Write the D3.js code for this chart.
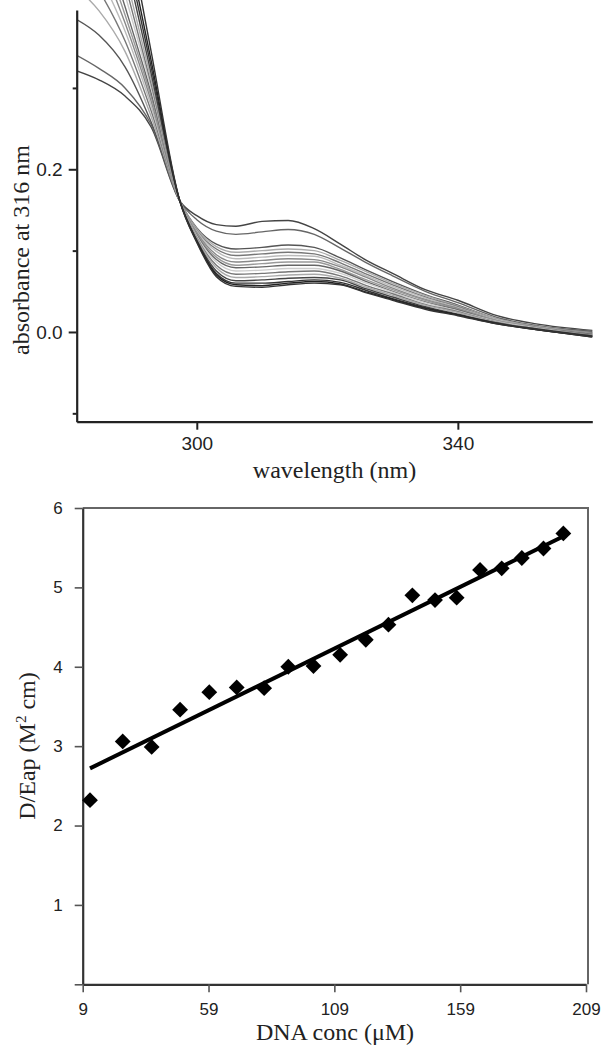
<!DOCTYPE html>
<html>
<head>
<meta charset="utf-8">
<script src="https://cdn.jsdelivr.net/npm/d3@7"></script>
<style>
  body { margin: 0; background: #fff; }
  .tick text { font-family: "Liberation Sans", Arial, sans-serif; fill: #222; }
  .top .tick text { font-size: 19px; }
  .bot .tick text { font-size: 17px; }
  .title { font-family: "Liberation Serif", "Times New Roman", serif; font-size: 24px; fill: #222; }
</style>
</head>
<body>
<svg width="602" height="1049"></svg>
<script>
// ---- top panel: absorption spectra during the titration ----
const wavelengths = [281.6, 285, 289, 293, 297.4, 300, 303, 306, 310, 314, 318, 322, 326, 330, 335, 340, 346, 352, 360.6];

const spectra = [
  [0.321, 0.310, 0.290, 0.252, 0.161, 0.143, 0.132, 0.130, 0.136, 0.137, 0.127, 0.108, 0.088, 0.072, 0.052, 0.039, 0.020, 0.010, 0.002],
  [0.340, 0.324, 0.300, 0.255, 0.161, 0.138, 0.124, 0.120, 0.123, 0.126, 0.120, 0.103, 0.085, 0.069, 0.050, 0.036, 0.018, 0.008, 0.001],
  [0.384, 0.365, 0.326, 0.258, 0.161, 0.128, 0.108, 0.102, 0.104, 0.107, 0.104, 0.091, 0.076, 0.062, 0.046, 0.033, 0.016, 0.007, 0.000],
  [0.423, 0.395, 0.345, 0.265, 0.161, 0.127, 0.105, 0.098, 0.100, 0.102, 0.100, 0.088, 0.074, 0.060, 0.045, 0.032, 0.016, 0.007, -0.001],
  [0.460, 0.420, 0.358, 0.272, 0.161, 0.125, 0.102, 0.094, 0.096, 0.098, 0.096, 0.085, 0.071, 0.058, 0.043, 0.031, 0.015, 0.006, -0.001],
  [0.490, 0.440, 0.370, 0.278, 0.161, 0.124, 0.099, 0.090, 0.092, 0.094, 0.093, 0.082, 0.069, 0.056, 0.042, 0.030, 0.015, 0.006, -0.002],
  [0.520, 0.460, 0.380, 0.284, 0.161, 0.122, 0.095, 0.086, 0.088, 0.090, 0.089, 0.080, 0.067, 0.054, 0.040, 0.029, 0.014, 0.006, -0.002],
  [0.550, 0.480, 0.390, 0.289, 0.161, 0.121, 0.092, 0.082, 0.084, 0.086, 0.086, 0.077, 0.064, 0.052, 0.039, 0.028, 0.014, 0.005, -0.003],
  [0.580, 0.500, 0.400, 0.294, 0.161, 0.119, 0.089, 0.079, 0.080, 0.082, 0.082, 0.075, 0.062, 0.050, 0.037, 0.027, 0.013, 0.005, -0.003],
  [0.620, 0.530, 0.415, 0.300, 0.161, 0.118, 0.086, 0.075, 0.076, 0.078, 0.078, 0.072, 0.060, 0.049, 0.036, 0.026, 0.013, 0.005, -0.004],
  [0.650, 0.550, 0.428, 0.305, 0.161, 0.116, 0.082, 0.071, 0.072, 0.074, 0.075, 0.069, 0.057, 0.047, 0.034, 0.025, 0.012, 0.004, -0.004],
  [0.680, 0.575, 0.442, 0.311, 0.161, 0.115, 0.079, 0.067, 0.068, 0.070, 0.071, 0.066, 0.055, 0.045, 0.033, 0.024, 0.012, 0.004, -0.005],
  [0.720, 0.600, 0.460, 0.318, 0.161, 0.113, 0.075, 0.063, 0.064, 0.066, 0.067, 0.064, 0.053, 0.043, 0.031, 0.022, 0.011, 0.004, -0.005],
  [0.750, 0.625, 0.475, 0.326, 0.161, 0.112, 0.072, 0.060, 0.060, 0.062, 0.064, 0.061, 0.051, 0.041, 0.030, 0.021, 0.011, 0.003, -0.005],
  [0.780, 0.650, 0.490, 0.334, 0.161, 0.111, 0.070, 0.058, 0.057, 0.060, 0.062, 0.059, 0.049, 0.040, 0.029, 0.021, 0.010, 0.003, -0.006],
  [0.830, 0.685, 0.515, 0.345, 0.161, 0.110, 0.068, 0.056, 0.055, 0.058, 0.060, 0.058, 0.048, 0.039, 0.028, 0.020, 0.010, 0.003, -0.006]
];
const spectraColors = ["#444", "#666", "#555", "#aaa", "#777", "#bbb", "#888", "#999",
                       "#666", "#ccc", "#777", "#aaa", "#444", "#333", "#222", "#333"];

const waveTicks = [300, 340];
const absTicks = [0.0, 0.2];
const absMinor = [-0.1, 0.1, 0.3];

// ---- bottom panel: D/Eap vs DNA concentration ----
const dnaConc = [11.9, 24.9, 36.4, 47.7, 59.3, 70.2, 81.1, 90.7, 100.7, 111.3,
                 121.5, 130.5, 140.0, 149.0, 157.6, 166.9, 175.5, 183.5, 192.1, 200.0];
const dEap = [2.32, 3.06, 2.99, 3.46, 3.68, 3.74, 3.73, 4.00, 4.01, 4.15,
              4.34, 4.53, 4.90, 4.84, 4.87, 5.22, 5.24, 5.37, 5.49, 5.68];
const fitX = [11.9, 200.5];
const fitY = [2.72, 5.65];
const concTicks = [9, 59, 109, 159, 209];
const dTicks = [0, 1, 2, 3, 4, 5, 6];

const svg = d3.select("svg");

// top panel
const x1 = d3.scaleLinear().domain([281.6, 360.6]).range([76.7, 592.3]);
const y1 = d3.scaleLinear().domain([-0.1103, 0.3958]).range([421.7, 10]);

svg.append("clipPath").attr("id", "clipTop")
  .append("rect").attr("x", 77).attr("y", 0).attr("width", 516).attr("height", 421);

const line1 = d3.line()
  .x((d, i) => x1(wavelengths[i]))
  .y(d => y1(d))
  .curve(d3.curveMonotoneX);

svg.append("g").attr("clip-path", "url(#clipTop)")
  .selectAll("path")
  .data(spectra)
  .enter().append("path")
  .attr("d", line1)
  .attr("fill", "none")
  .attr("stroke", (d, i) => spectraColors[i])
  .attr("stroke-width", 1.4);

const yAx1 = svg.append("g").attr("class", "top").attr("transform", "translate(76.7,0)")
  .call(d3.axisLeft(y1).tickValues(absTicks).tickFormat(d3.format(".1f")).tickSize(8).tickSizeOuter(0));
svg.append("g").attr("transform", "translate(76.7,0)")
  .call(d3.axisLeft(y1).tickValues(absMinor).tickFormat("").tickSize(4).tickSizeOuter(0))
  .select(".domain").remove();
const xAx1 = svg.append("g").attr("class", "top").attr("transform", "translate(0,421.7)")
  .call(d3.axisBottom(x1).tickValues(waveTicks).tickSize(8).tickSizeOuter(0));

[yAx1, xAx1].forEach(g => {
  g.select(".domain").attr("stroke", "#222").attr("stroke-width", 2.2);
});
svg.selectAll(".tick line").attr("stroke", "#222").attr("stroke-width", 2);
yAx1.selectAll(".tick text").attr("x", -14);
xAx1.selectAll(".tick text").attr("y", 15);

svg.append("text").attr("class", "title")
  .attr("x", 334.5).attr("y", 478).attr("text-anchor", "middle")
  .text("wavelength (nm)");
svg.append("text").attr("class", "title")
  .attr("transform", "translate(29,250) rotate(-90)").attr("text-anchor", "middle")
  .text("absorbance at 316 nm");

// bottom panel
const x2 = d3.scaleLinear().domain([9, 209]).range([82.7, 586]);
const y2 = d3.scaleLinear().domain([0, 6]).range([984.3, 508]);

// frame top and right
svg.append("path")
  .attr("d", `M${x2(9)},${y2(6)}H${x2(209) + 2}V${y2(0)}`)
  .attr("fill", "none").attr("stroke", "#666").attr("stroke-width", 2);

const yAx2 = svg.append("g").attr("class", "bot").attr("transform", "translate(82.7,0)")
  .call(d3.axisLeft(y2).tickValues(dTicks).tickFormat(d => d === 0 ? "" : d).tickSize(8).tickSizeOuter(0));
const xAx2 = svg.append("g").attr("class", "bot").attr("transform", "translate(0,984.3)")
  .call(d3.axisBottom(x2).tickValues(concTicks).tickSize(8).tickSizeOuter(0));

[yAx2, xAx2].forEach(g => {
  g.select(".domain").attr("stroke", "#333").attr("stroke-width", 2.2);
  g.selectAll(".tick line").attr("stroke", "#555").attr("stroke-width", 1.6);
});
yAx2.selectAll(".tick text").attr("x", -20);
xAx2.selectAll(".tick text").attr("y", 19);

svg.append("line")
  .attr("x1", x2(fitX[0])).attr("y1", y2(fitY[0]))
  .attr("x2", x2(fitX[1])).attr("y2", y2(fitY[1]))
  .attr("stroke", "#000").attr("stroke-width", 4);

svg.append("g").selectAll("path")
  .data(dnaConc)
  .enter().append("path")
  .attr("d", d3.symbol().type(d3.symbolSquare).size(125))
  .attr("transform", (d, i) => `translate(${x2(d)},${y2(dEap[i])}) rotate(45)`)
  .attr("fill", "#000");

svg.append("text").attr("class", "title")
  .attr("x", 335).attr("y", 1040).attr("text-anchor", "middle")
  .text("DNA conc (μM)");
const yt = svg.append("text").attr("class", "title")
  .attr("transform", "translate(35,746) rotate(-90)").attr("text-anchor", "middle");
yt.append("tspan").text("D/Eap (M");
yt.append("tspan").attr("dy", -9).attr("font-size", 15).text("2");
yt.append("tspan").attr("dy", 9).text(" cm)");
</script>
</body>
</html>
